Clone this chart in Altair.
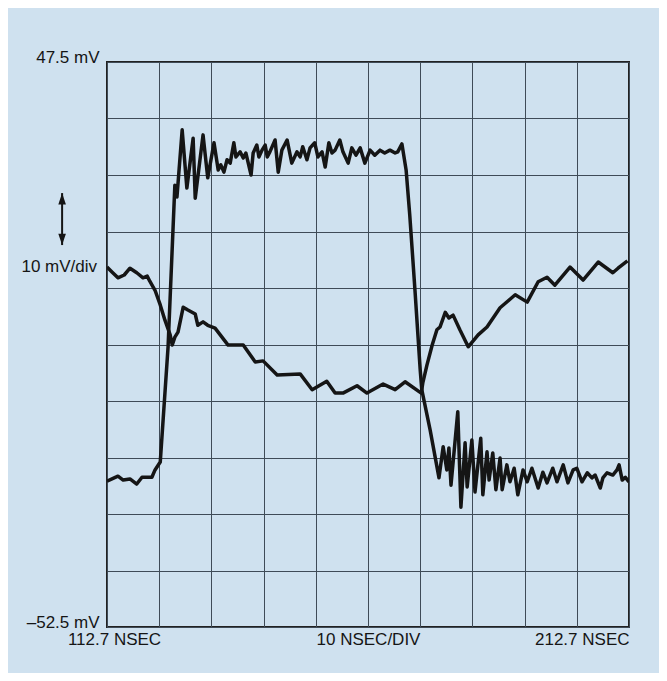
import altair as alt
import pandas as pd

# Trace A: the pulse (time in ns, amplitude in mV)
T1_NS = [112.7, 114.8, 115.8, 117.1, 118.4, 119.4, 121.3, 121.9, 122.9, 124.4,
         125.7, 126.1, 127.1, 128.0, 129.2, 129.6, 131.1, 132.0, 133.2, 134.0,
         134.5, 135.1, 135.7, 136.3, 137.0, 137.4, 138.2, 138.8, 139.3, 140.3,
         140.7, 141.4, 141.8, 142.4, 143.0, 143.4, 143.9, 144.9, 145.5, 146.2,
         147.2, 148.1, 149.1, 149.7, 150.2, 151.0, 151.6, 152.5, 153.1, 153.9,
         154.5, 155.2, 155.8, 156.4, 157.3, 157.9, 158.9, 159.6, 160.4, 161.2,
         162.1, 163.1, 164.0, 165.0, 165.9, 166.9, 167.9, 168.4, 169.2, 170.0,
         170.7, 171.7, 172.7, 173.0, 174.6, 176.3, 177.1, 177.8, 178.2, 178.6,
         179.9, 180.5, 181.3, 181.7, 182.6, 183.2, 184.3, 184.7, 185.5, 185.9,
         186.6, 187.2, 188.0, 188.4, 189.3, 189.9, 190.7, 191.4, 192.4, 193.2,
         194.1, 195.3, 196.2, 197.0, 198.1, 198.9, 200.1, 201.0, 202.0, 202.7,
         203.7, 204.7, 205.6, 206.2, 207.2, 207.7, 208.5, 209.6, 210.4, 210.8,
         211.4, 212.0, 212.7]
T1_MV = [-26.7, -25.8, -26.5, -26.3, -27.2, -26.0, -26.0, -24.7, -23.3, -2.9,
         25.7, 23.6, 35.5, 25.2, 34.0, 23.4, 34.6, 27.0, 33.2, 28.4,
         29.3, 28.0, 30.2, 29.6, 33.2, 30.7, 31.6, 30.5, 31.4, 27.5,
         31.4, 32.8, 30.7, 31.9, 32.8, 30.7, 31.6, 33.7, 28.0, 31.9,
         33.7, 29.6, 31.6, 30.7, 32.5, 30.2, 32.3, 33.2, 30.7, 31.6,
         28.9, 33.2, 31.4, 31.9, 33.7, 31.6, 29.6, 32.3, 31.0, 32.3,
         29.6, 31.9, 31.0, 31.9, 31.4, 31.9, 31.4, 31.6, 33.0, 28.4,
         20.4, 7.1, -7.0, -10.5, -17.6, -26.1, -20.6, -24.7, -20.8, -27.4,
         -14.4, -31.3, -19.9, -27.7, -19.4, -28.6, -19.1, -29.1, -21.5, -26.5,
         -21.7, -28.2, -22.6, -28.2, -23.8, -26.8, -24.4, -29.1, -24.7, -26.8,
         -24.4, -27.9, -25.1, -27.0, -24.4, -26.8, -23.8, -27.0, -24.7, -24.4,
         -26.8, -25.2, -26.1, -25.6, -27.9, -26.1, -25.2, -25.6, -24.7, -23.8,
         -26.5, -26.0, -26.8]

# Trace B: the slower waveform
T2_NS = [112.7, 113.7, 114.8, 116.0, 117.1, 118.4, 119.6, 120.4, 120.9, 121.9,
         122.9, 123.8, 124.8, 125.2, 125.7, 126.3, 127.3, 128.2, 129.6, 130.1,
         131.1, 132.0, 133.4, 135.9, 138.8, 141.1, 142.6, 145.3, 149.7, 152.0,
         154.8, 156.4, 157.9, 160.6, 162.5, 165.6, 167.9, 169.8, 172.9, 173.2,
         174.0, 175.0, 175.9, 176.5, 177.5, 178.2, 179.0, 180.3, 181.9, 183.8,
         185.5, 188.0, 190.9, 193.2, 195.3, 197.0, 198.5, 201.4, 203.9, 206.8,
         209.6, 210.6, 212.4]
T2_MV = [11.2, 10.3, 9.3, 9.8, 11.0, 10.2, 9.3, 9.6, 8.7, 7.1,
         4.5, 1.8, -0.8, -2.6, -1.2, -0.3, 4.1, 3.6, 2.9, 0.9,
         1.5, 0.9, 0.4, -2.6, -2.6, -5.6, -5.4, -7.9, -7.7, -10.5,
         -9.0, -11.1, -11.1, -9.8, -11.1, -9.5, -10.5, -9.1, -11.1, -9.3,
         -6.1, -2.6, 0.1, 0.6, 3.2, 2.2, 2.7, 0.1, -2.9, -0.8,
         0.6, 4.0, 6.3, 5.0, 8.6, 9.4, 8.0, 11.2, 8.9, 12.1,
         10.2, 11.0, 12.3]

X_GRID = [112.7, 122.7, 132.7, 142.7, 152.7, 162.7, 172.7, 182.7, 192.7, 202.7, 212.7]
Y_GRID = [47.5, 37.5, 27.5, 17.5, 7.5, -2.5, -12.5, -22.5, -32.5, -42.5, -52.5]

SCALE_TEXT = ["10 mV/div"]
SCALE_NS = [110.8]
SCALE_MV = [11.2]
ARROW_NS = [104.1]
ARROW_TOP = [24.3]
ARROW_BOTTOM = [15.1]

FONT = "Liberation Sans"
INK = "#151515"
BG = "#cfe1ef"

df = pd.concat([
    pd.DataFrame({"ns": T1_NS, "mv": T1_MV, "trace": "A", "order": range(len(T1_NS))}),
    pd.DataFrame({"ns": T2_NS, "mv": T2_MV, "trace": "B", "order": range(len(T2_NS))}),
])

xscale = alt.Scale(domain=[X_GRID[0], X_GRID[-1]], nice=False, zero=False)
yscale = alt.Scale(domain=[Y_GRID[-1], Y_GRID[0]], nice=False, zero=False)

x_axis = alt.Axis(
    values=X_GRID, title=None, grid=True, ticks=False, domain=False,
    gridColor="#3f4b57", gridWidth=1, gridOpacity=1,
    labelExpr="datum.value < 113 ? '112.7 NSEC' : (abs(datum.value - 162.7) < 0.1 ? '10 NSEC/DIV' : (datum.value > 212 ? '212.7 NSEC' : ''))",
    labelAlign={"condition": {"test": "datum.value > 212", "value": "right"}, "value": "center"},
    labelOffset={"condition": {"test": "datum.value < 113", "value": 7}, "value": 0},
    labelFont=FONT, labelFontSize=17, labelColor=INK, labelPadding=4,
    labelOverlap=False, labelFlush=False, labelBound=False,
)
y_axis = alt.Axis(
    values=Y_GRID, title=None, grid=True, ticks=False, domain=False,
    gridColor="#3f4b57", gridWidth=1, gridOpacity=1,
    labelExpr="datum.value > 47 ? '47.5 mV' : (datum.value < -52 ? '\u201352.5 mV' : '')",
    labelBaseline="alphabetic", labelAlign="right",
    labelFont=FONT, labelFontSize=17, labelColor=INK, labelPadding=8,
    labelOverlap=False, labelFlush=False, labelBound=False,
)

lines = alt.Chart(df).mark_line(
    color=INK, strokeWidth=3.5, strokeJoin="round", clip=True
).encode(
    x=alt.X("ns:Q", scale=xscale, axis=x_axis),
    y=alt.Y("mv:Q", scale=yscale, axis=y_axis),
    detail="trace:N",
    order="order:Q",
)

ann = pd.DataFrame({"ns": SCALE_NS, "mv": SCALE_MV, "text": SCALE_TEXT})
label = alt.Chart(ann).mark_text(
    align="right", baseline="middle", font=FONT, fontSize=17, color=INK
).encode(x=alt.X("ns:Q", scale=xscale), y=alt.Y("mv:Q", scale=yscale), text="text:N")

arrow_df = pd.DataFrame({"ns": ARROW_NS, "top": ARROW_TOP, "bottom": ARROW_BOTTOM})
shaft = alt.Chart(arrow_df).mark_rule(color=INK, strokeWidth=2).encode(
    x=alt.X("ns:Q", scale=xscale), y=alt.Y("top:Q", scale=yscale), y2="bottom:Q"
)
head_top = alt.Chart(arrow_df).mark_point(
    shape="M0,0 L-0.6,1.8 L0.6,1.8 Z", filled=True, color=INK, size=160, opacity=1
).encode(x=alt.X("ns:Q", scale=xscale), y=alt.Y("top:Q", scale=yscale))
head_bottom = alt.Chart(arrow_df).mark_point(
    shape="M0,0 L-0.6,-1.8 L0.6,-1.8 Z", filled=True, color=INK, size=160, opacity=1
).encode(x=alt.X("ns:Q", scale=xscale), y=alt.Y("bottom:Q", scale=yscale))

chart = alt.layer(lines, label, shaft, head_top, head_bottom).properties(
    width=522, height=565,
    autosize=alt.AutoSizeParams(type="none"),
    padding={"left": 99, "top": 54, "right": 30, "bottom": 46},
    background=BG,
).configure_view(
    stroke="#222222", strokeWidth=2
)

chart.save("out.html", embed_options={"renderer": "svg", "actions": False})
